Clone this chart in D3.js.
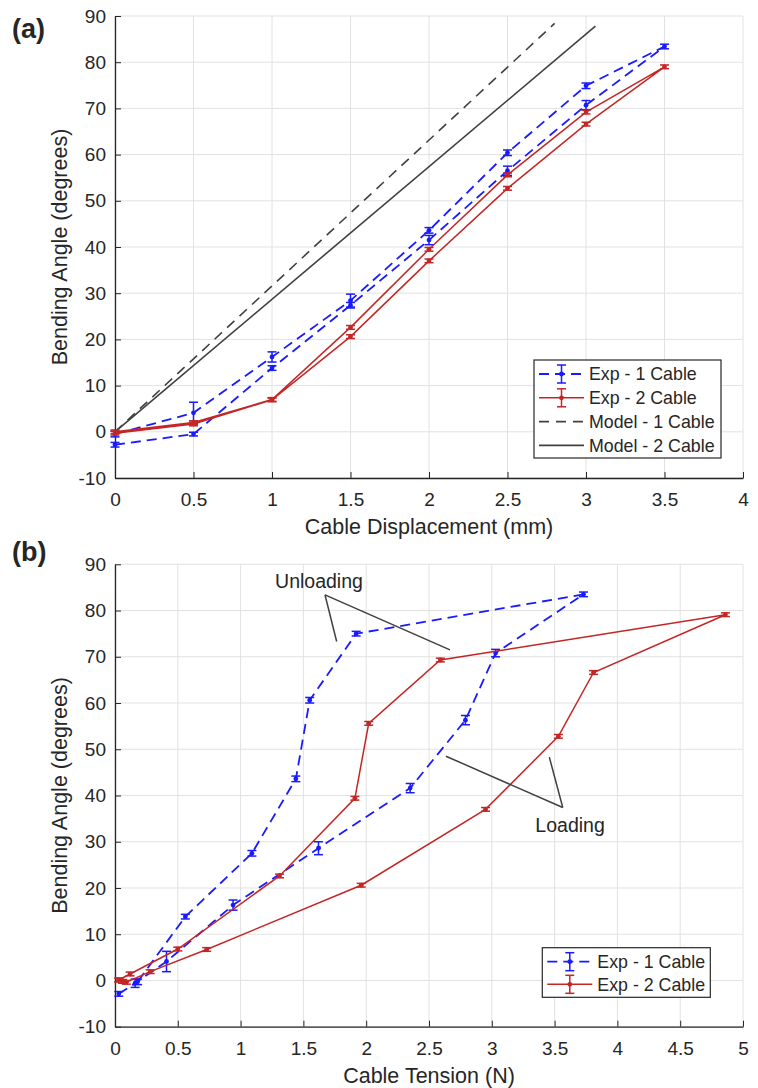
<!DOCTYPE html>
<html>
<head>
<meta charset="utf-8">
<script src="https://cdn.jsdelivr.net/npm/d3@7"></script>
<style>
body { margin: 0; background: #fff; }
svg text { font-family: "Liberation Sans", Arial, Helvetica, sans-serif; fill: #262626; }
</style>
</head>
<body>
<svg id="fig" width="758" height="1088"></svg>
<script>
// ---- (a) bending angle vs cable displacement (loop: loading then unloading)
var dispA = [0, 0.5, 1, 1.5, 2, 2.5, 3, 3.5, 3, 2.5, 2, 1.5, 1, 0.5, 0];
var exp1AngleA = [-2.8, -0.5, 13.8, 27.4, 41.5, 56.5, 70.7, 83.4, 74.9, 60.4, 43.6, 28.4, 16.2, 4.1, -0.5];
var exp1ErrA = [0.5, 0.4, 0.5, 0.6, 1.0, 1.0, 1.0, 0.5, 0.6, 0.6, 0.6, 1.4, 1.1, 2.3, 0.6];
var exp2AngleA = [-0.3, 1.7, 6.9, 20.6, 37.0, 52.7, 66.6, 79.0, 69.2, 55.6, 39.5, 22.6, 7.0, 2.0, 0.0];
var exp2ErrA = [0.4, 0.4, 0.4, 0.4, 0.4, 0.4, 0.4, 0.4, 0.4, 0.4, 0.4, 0.4, 0.4, 0.4, 0.4];
var model1Disp = [0, 2.8];
var model1Angle = [0, 88.4];
var model2Disp = [0, 3.06];
var model2Angle = [0, 87.8];
var legendA = ["Exp - 1 Cable", "Exp - 2 Cable", "Model - 1 Cable", "Model - 2 Cable"];
var xTicksA = [0, 0.5, 1, 1.5, 2, 2.5, 3, 3.5, 4];

// ---- (b) bending angle vs cable tension
var exp1Tension = [0.03, 0.16, 0.41, 0.94, 1.62, 2.35, 2.79, 3.03, 3.73, 1.92, 1.55, 1.44, 1.09, 0.56, 0.18];
var exp1AngleB = [-2.9, -0.6, 4.1, 16.3, 28.6, 41.6, 56.3, 70.8, 83.5, 75.0, 60.6, 43.6, 27.5, 13.8, -0.3];
var exp1ErrB = [0.5, 0.9, 2.2, 1.1, 1.4, 1.0, 1.0, 0.8, 0.5, 0.5, 0.6, 0.6, 0.6, 0.5, 0.6];
var exp2Tension = [0.03, 0.06, 0.09, 0.28, 0.73, 1.96, 2.95, 3.53, 3.81, 4.86, 2.59, 2.02, 1.91, 1.31, 0.50, 0.12, 0.03];
var exp2AngleB = [0.1, -0.2, -0.4, 1.9, 6.7, 20.6, 37.0, 52.8, 66.6, 79.1, 69.3, 55.6, 39.4, 22.6, 6.8, 1.4, 0.1];
var exp2ErrB = [0.4, 0.4, 0.4, 0.4, 0.4, 0.4, 0.4, 0.4, 0.4, 0.4, 0.4, 0.4, 0.4, 0.4, 0.4, 0.4, 0.4];
var legendB = ["Exp - 1 Cable", "Exp - 2 Cable"];
var xTicksB = [0, 0.5, 1, 1.5, 2, 2.5, 3, 3.5, 4, 4.5, 5];

var yTicks = [-10, 0, 10, 20, 30, 40, 50, 60, 70, 80, 90];

var BLUE = "#1a1aff", RED = "#c42626", DARK = "#404040";
var svg = d3.select("#fig");

function panel(top, bottom, xMax, xTicks, xLabel, tag) {
	var p = {};
	p.x = d3.scaleLinear().domain([0, xMax]).range([115, 743]);
	p.y = d3.scaleLinear().domain([-10, 90]).range([bottom, top]);
	p.g = svg.append("g");

	// grid
	p.g.selectAll(".gx").data(xTicks).enter().append("line")
		.attr("x1", p.x).attr("x2", p.x)
		.attr("y1", top).attr("y2", bottom)
		.attr("stroke", "#e2e2e2").attr("stroke-width", 1);
	p.g.selectAll(".gy").data(yTicks).enter().append("line")
		.attr("x1", 115).attr("x2", 743)
		.attr("y1", p.y).attr("y2", p.y)
		.attr("stroke", "#e2e2e2").attr("stroke-width", 1);

	var ax = p.g.append("g").attr("transform", "translate(0," + bottom + ")")
		.call(d3.axisBottom(p.x).tickValues(xTicks).tickFormat(function(d) { return String(d); })
			.tickSizeInner(-6).tickSizeOuter(0).tickPadding(15));
	var ay = p.g.append("g").attr("transform", "translate(115,0)")
		.call(d3.axisLeft(p.y).tickValues(yTicks).tickFormat(function(d) { return String(d); })
			.tickSizeInner(-6).tickSizeOuter(0).tickPadding(9));
	[ax, ay].forEach(function(a) {
		a.select(".domain").attr("stroke", "#262626").attr("stroke-width", 1.3);
		a.selectAll(".tick line").attr("stroke", "#262626").attr("stroke-width", 1);
		a.selectAll("text").attr("font-size", "19px").attr("fill", "#262626")
			.attr("font-family", "'Liberation Sans', Arial, sans-serif");
	});

	p.g.append("text").attr("x", 429).attr("y", bottom + 56)
		.attr("text-anchor", "middle").attr("font-size", "21.5px").text(xLabel);
	p.g.append("text")
		.attr("transform", "translate(67," + (top + bottom) / 2 + ")rotate(-90)")
		.attr("text-anchor", "middle").attr("font-size", "21.5px").text("Bending Angle (degrees)");
	p.g.append("text").attr("x", 12).attr("y", top + (tag == "(a)" ? 22 : -3))
		.attr("font-size", "27px").attr("font-weight", "bold").attr("fill", "#111").text(tag);
	return p;
}

function series(p, xs, ys, errs, color, dash, width) {
	var pts = xs.map(function(d, i) { return {x: d, y: ys[i], e: errs[i]}; });
	var line = d3.line().x(function(d) { return p.x(d.x); }).y(function(d) { return p.y(d.y); });
	p.g.append("path").datum(pts).attr("d", line)
		.attr("fill", "none").attr("stroke", color).attr("stroke-width", width)
		.attr("stroke-dasharray", dash);
	var eb = p.g.append("g").selectAll("g").data(pts).enter().append("g")
		.attr("stroke", color).attr("stroke-width", 1.5);
	eb.append("line")
		.attr("x1", function(d) { return p.x(d.x); }).attr("x2", function(d) { return p.x(d.x); })
		.attr("y1", function(d) { return p.y(d.y - d.e); }).attr("y2", function(d) { return p.y(d.y + d.e); });
	[-1, 1].forEach(function(s) {
		eb.append("line")
			.attr("x1", function(d) { return p.x(d.x) - 4.5; }).attr("x2", function(d) { return p.x(d.x) + 4.5; })
			.attr("y1", function(d) { return p.y(d.y + s * d.e); }).attr("y2", function(d) { return p.y(d.y + s * d.e); });
	});
	p.g.append("g").selectAll("circle").data(pts).enter().append("circle")
		.attr("cx", function(d) { return p.x(d.x); }).attr("cy", function(d) { return p.y(d.y); })
		.attr("r", 2.4).attr("fill", color);
}

function model(p, xs, ys, dash) {
	var pts = xs.map(function(d, i) { return [p.x(d), p.y(ys[i])]; });
	p.g.append("path").attr("d", d3.line()(pts))
		.attr("fill", "none").attr("stroke", DARK).attr("stroke-width", 1.6)
		.attr("stroke-dasharray", dash);
}

function legend(x0, y0, w, h, step, names, styles) {
	var g = svg.append("g");
	g.append("rect").attr("x", x0).attr("y", y0).attr("width", w).attr("height", h)
		.attr("fill", "#fff").attr("stroke", "#262626").attr("stroke-width", 1.2);
	names.forEach(function(n, i) {
		var s = styles[i], cy = y0 + 14 + i * step;
		g.append("line").attr("x1", x0 + 5).attr("x2", x0 + 50).attr("y1", cy).attr("y2", cy)
			.attr("stroke", s.color).attr("stroke-width", s.width).attr("stroke-dasharray", s.dash);
		if (s.bar) {
			var cx = x0 + 27.5, c = g.append("g").attr("stroke", s.color).attr("stroke-width", 1.5);
			c.append("line").attr("x1", cx).attr("x2", cx).attr("y1", cy - 9).attr("y2", cy + 9);
			c.append("line").attr("x1", cx - 4.5).attr("x2", cx + 4.5).attr("y1", cy - 9).attr("y2", cy - 9);
			c.append("line").attr("x1", cx - 4.5).attr("x2", cx + 4.5).attr("y1", cy + 9).attr("y2", cy + 9);
			g.append("circle").attr("cx", cx).attr("cy", cy).attr("r", 2.4).attr("fill", s.color);
		}
		g.append("text").attr("x", x0 + 55).attr("y", cy).attr("dy", "0.36em")
			.attr("font-size", "17.8px").text(n);
	});
}

var styles = [
	{color: BLUE, dash: "10,6", width: 1.8, bar: true},
	{color: RED, dash: null, width: 1.5, bar: true},
	{color: DARK, dash: "10,7", width: 1.6},
	{color: DARK, dash: null, width: 1.6}
];

// panel (a)
var pa = panel(16, 478, 4, xTicksA, "Cable Displacement (mm)", "(a)");
model(pa, model1Disp, model1Angle, "10,7");
model(pa, model2Disp, model2Angle, null);
series(pa, dispA, exp1AngleA, exp1ErrA, BLUE, "10,6", 1.8);
series(pa, dispA, exp2AngleA, exp2ErrA, RED, null, 1.5);
legend(534, 360, 187, 98, 23.8, legendA, styles);

// panel (b)
var pb = panel(564.3, 1026.7, 5, xTicksB, "Cable Tension (N)", "(b)");
series(pb, exp1Tension, exp1AngleB, exp1ErrB, BLUE, "10,6", 1.8);
series(pb, exp2Tension, exp2AngleB, exp2ErrB, RED, null, 1.5);

// annotations (in data units)
var notes = [
	{text: "Unloading", tx: 1.624, ty: 84.9, vx: 1.672, vy: 83.4, ends: [[1.765, 73.3], [2.667, 71.5]]},
	{text: "Loading", tx: 3.623, ty: 32.1, vx: 3.565, vy: 37.4, ends: [[2.635, 48.5], [3.458, 48.3]]}
];
notes.forEach(function(n) {
	n.ends.forEach(function(e) {
		pb.g.append("line").attr("x1", pb.x(n.vx)).attr("y1", pb.y(n.vy))
			.attr("x2", pb.x(e[0])).attr("y2", pb.y(e[1]))
			.attr("stroke", DARK).attr("stroke-width", 1.5);
	});
	pb.g.append("text").attr("x", pb.x(n.tx)).attr("y", pb.y(n.ty))
		.attr("text-anchor", "middle").attr("font-size", "19.5px").text(n.text);
});
legend(542.3, 947.7, 168, 49.6, 22.6, legendB, styles);
</script>
</body>
</html>
